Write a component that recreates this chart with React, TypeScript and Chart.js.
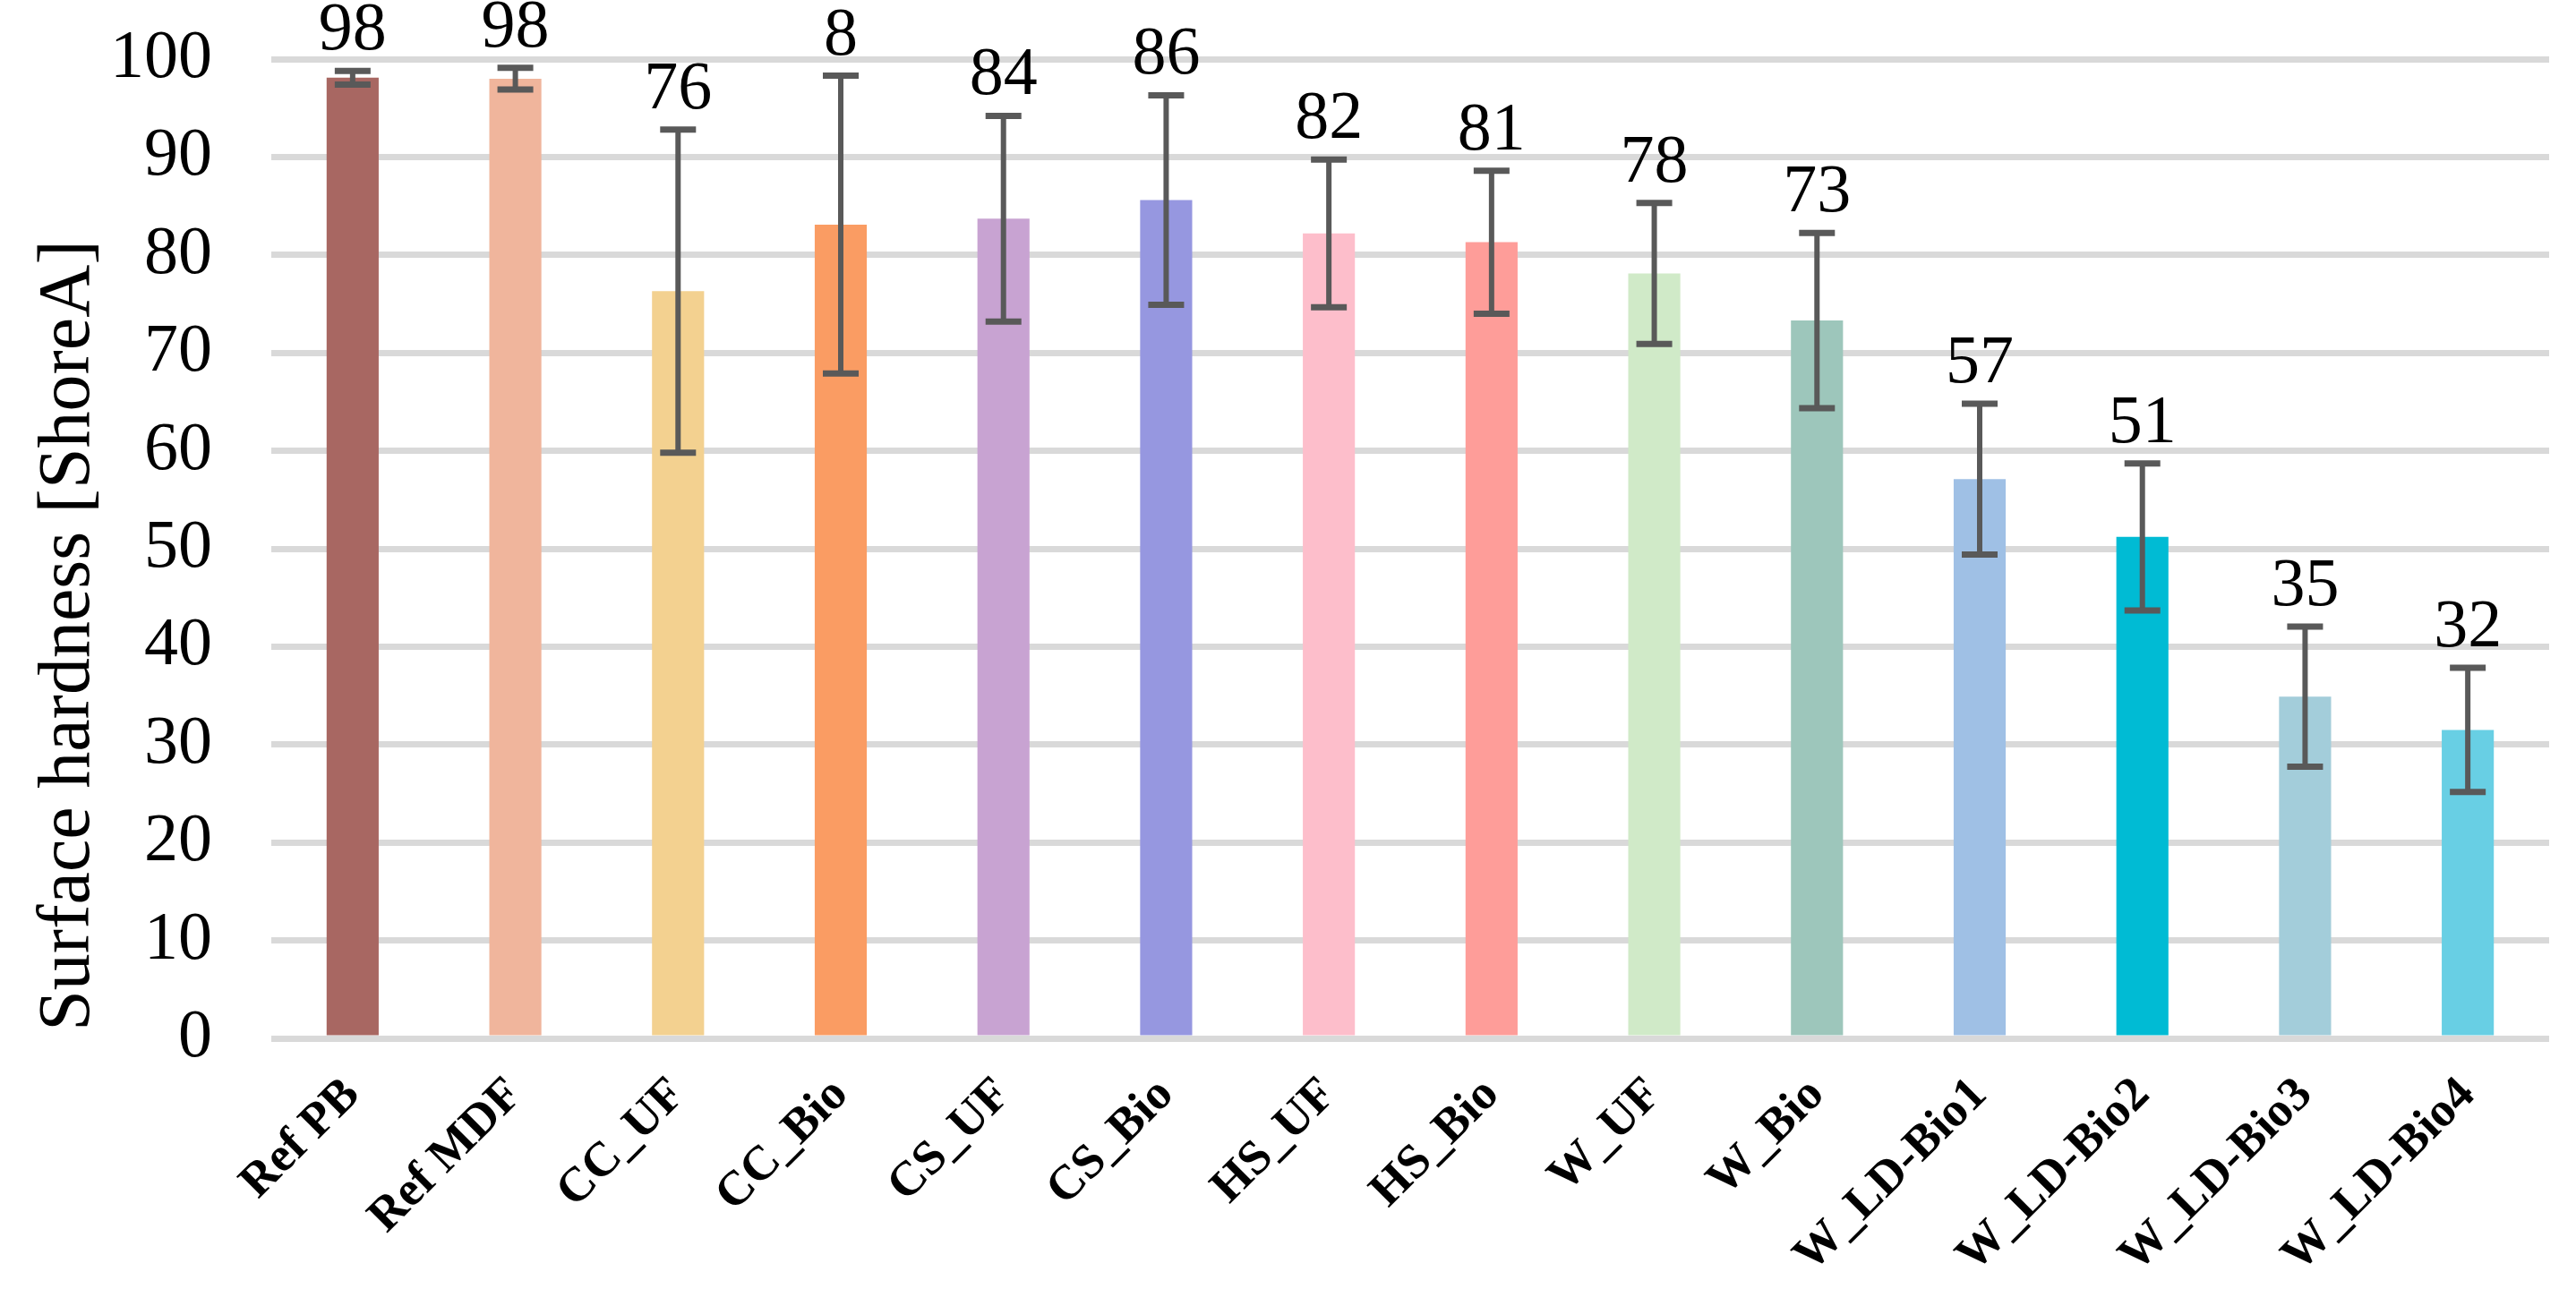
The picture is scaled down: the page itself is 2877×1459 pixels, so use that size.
import React, { useEffect, useRef } from "react";
import { Chart, registerables } from "chart.js";

Chart.register(...registerables);

const categories = [
  "Ref PB",
  "Ref MDF",
  "CC_UF",
  "CC_Bio",
  "CS_UF",
  "CS_Bio",
  "HS_UF",
  "HS_Bio",
  "W_UF",
  "W_Bio",
  "W_LD-Bio1",
  "W_LD-Bio2",
  "W_LD-Bio3",
  "W_LD-Bio4",
];

const hardness = [98.1, 98.0, 76.3, 83.1, 83.7, 85.6, 82.2, 81.3, 78.1, 73.3, 57.1, 51.2, 34.9, 31.5];

const hardnessSD = [0.7, 1.1, 16.5, 15.2, 10.5, 10.7, 7.55, 7.3, 7.2, 8.95, 7.7, 7.5, 7.15, 6.35];

const valueLabels = ["98", "98", "76", "8", "84", "86", "82", "81", "78", "73", "57", "51", "35", "32"];

const barColors = [
  "#A86762",
  "#F0B59C",
  "#F3D190",
  "#FA9C63",
  "#C8A3D2",
  "#9697E0",
  "#FDBECB",
  "#FE9D99",
  "#D0EAC8",
  "#9DC6BB",
  "#9FC0E5",
  "#00BBD4",
  "#A3CDDA",
  "#68CFE4",
];

const yAxisTitle = "Surface hardness [ShoreA]";

const SERIF = '"Liberation Serif", "Times New Roman", Times, serif';

export default function App() {
  const canvasRef = useRef<HTMLCanvasElement>(null);

  useEffect(() => {
    document.body.style.margin = "0";
    const canvas = canvasRef.current;
    if (!canvas) return;

    const overlay = {
      id: "errorBarsAndLabels",
      afterDatasetsDraw(chart: any) {
        const ctx = chart.ctx as CanvasRenderingContext2D;
        const meta = chart.getDatasetMeta(0);
        const y = chart.scales.y;
        ctx.save();
        meta.data.forEach((bar: any, i: number) => {
          const x = bar.x;
          const top = y.getPixelForValue(hardness[i] + hardnessSD[i]);
          const bot = y.getPixelForValue(hardness[i] - hardnessSD[i]);
          ctx.strokeStyle = "#595959";
          ctx.lineCap = "butt";
          ctx.lineWidth = 6;
          ctx.beginPath();
          ctx.moveTo(x, top);
          ctx.lineTo(x, bot);
          ctx.stroke();
          ctx.lineWidth = 7;
          const hw = 20;
          ctx.beginPath();
          ctx.moveTo(x - hw, top);
          ctx.lineTo(x + hw, top);
          ctx.moveTo(x - hw, bot);
          ctx.lineTo(x + hw, bot);
          ctx.stroke();

          ctx.fillStyle = "#000000";
          ctx.font = `76px ${SERIF}`;
          ctx.textAlign = "center";
          ctx.textBaseline = "alphabetic";
          ctx.fillText(valueLabels[i], x, top - 24);
        });

        const area = chart.chartArea;
        ctx.translate(99, (area.top + area.bottom) / 2 + 97);
        ctx.rotate(-Math.PI / 2);
        ctx.fillStyle = "#000000";
        ctx.font = `82px ${SERIF}`;
        ctx.textAlign = "center";
        ctx.textBaseline = "alphabetic";
        ctx.fillText(yAxisTitle, 0, 0);
        ctx.restore();
      },
    };

    const chart = new Chart(canvas, {
      type: "bar",
      data: {
        labels: categories,
        datasets: [
          {
            data: hardness,
            backgroundColor: barColors,
            borderWidth: 0,
            barPercentage: 0.32,
            categoryPercentage: 1,
          },
        ],
      },
      options: {
        animation: false,
        responsive: true,
        maintainAspectRatio: false,
        layout: { padding: { top: 66, right: 30, left: 0, bottom: 0 } },
        plugins: {
          legend: { display: false },
          tooltip: { enabled: false },
        },
        scales: {
          x: {
            grid: { display: false },
            border: { display: false },
            ticks: {
              maxRotation: 45,
              minRotation: 45,
              color: "#000000",
              font: { family: SERIF, size: 54, weight: "bold" },
              padding: 24,
            },
            afterFit: (s: any) => {
              s.height = 299;
            },
          },
          y: {
            min: 0,
            max: 100,
            ticks: {
              stepSize: 10,
              color: "#000000",
              font: { family: SERIF, size: 76 },
              padding: 66,
            },
            grid: { color: "#D9D9D9", lineWidth: 7, drawTicks: false },
            border: { display: false },
            afterFit: (s: any) => {
              s.width = 303;
              s.paddingTop = 0;
              s.paddingBottom = 0;
            },
          },
        },
      },
      plugins: [overlay],
    });

    return () => chart.destroy();
  }, []);

  return (
    <div style={{ position: "fixed", left: 0, top: 0, width: "2877px", height: "1459px", background: "#ffffff" }}>
      <canvas ref={canvasRef} />
    </div>
  );
}
